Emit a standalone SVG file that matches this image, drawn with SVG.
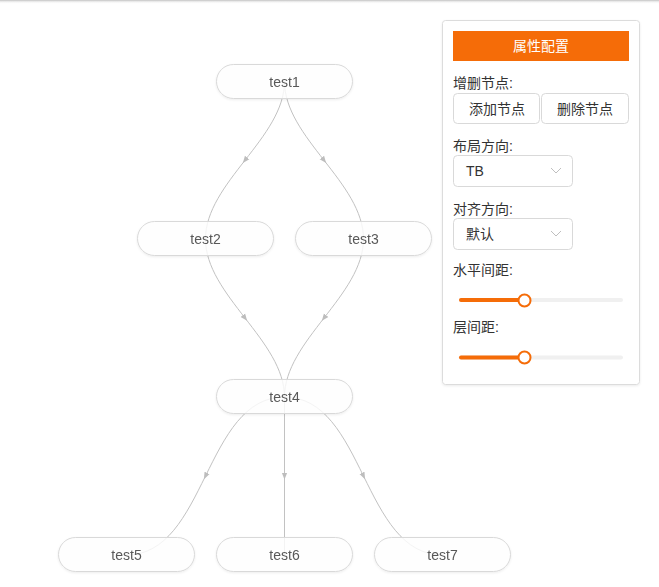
<svg xmlns="http://www.w3.org/2000/svg" width="659" height="587" viewBox="0 0 659 587">
<defs>
<style>
.node rect{fill:#ffffff;fill-opacity:0.82;stroke:#d9d9d9;stroke-width:1}
.node text{font-family:"Liberation Sans",Arial,sans-serif;font-size:14px;fill:#595959;text-anchor:middle}
.edge{fill:none;stroke:#c2c2c2;stroke-width:1;marker-mid:url(#arr)}
.lbl{font-family:"Liberation Sans","Noto Sans CJK SC",sans-serif;font-size:14px;fill:#333333}
.btn{fill:#ffffff;stroke:#d9d9d9;stroke-width:1}
.btnt{font-family:"Liberation Sans","Noto Sans CJK SC",sans-serif;font-size:14px;fill:#333333;text-anchor:middle}
.track{fill:#f0f0f0}
.fill{fill:#f56c08}
.handle{fill:#ffffff;stroke:#f56c08;stroke-width:2}
</style>
<marker id="arr" viewBox="0 0 10 10" refX="5" refY="5" markerWidth="7" markerHeight="7" orient="auto" markerUnits="userSpaceOnUse">
<path d="M0,1 L10,5 L0,9 Z" fill="#bdbdbd"/>
</marker>
<filter id="sh" x="-10%" y="-10%" width="120%" height="130%">
<feDropShadow dx="0" dy="1" stdDeviation="1" flood-color="#000" flood-opacity="0.08"/>
</filter>
<linearGradient id="topsh" x1="0" y1="0" x2="0" y2="1">
<stop offset="0" stop-color="#c8c8c8"/>
<stop offset="1" stop-color="#ffffff" stop-opacity="0"/>
</linearGradient>
</defs>
<rect width="659" height="587" fill="#ffffff"/>
<rect x="0" y="0" width="659" height="4" fill="url(#topsh)"/>
<rect x="0" y="0" width="659" height="1" fill="#d0d0d0"/>

<g id="connectors">
<path class="edge" d="M284.5,81.5 C284.5,109.5 264.75,134.875 245,160.25 C225.25,185.625 205.5,211 205.5,239"/>
<path class="edge" d="M284.5,81.5 C284.5,109.5 304.25,134.875 324,160.25 C343.75,185.625 363.5,211 363.5,239"/>
<path class="edge" d="M205.5,239 C205.5,267 225.25,292.5 245,318 C264.75,343.5 284.5,369 284.5,397"/>
<path class="edge" d="M363.5,239 C363.5,267 343.75,292.5 324,318 C304.25,343.5 284.5,369 284.5,397"/>
<path class="edge" d="M284.5,397 L284.5,476 L284.5,555"/>
<path class="edge" d="M284.5,397 C244.5,397 225,436.5 205.5,476 C186,515.5 166.5,555 126.5,555"/>
<path class="edge" d="M284.5,397 C324.5,397 344,436.5 363.5,476 C383,515.5 402.5,555 442.5,555"/>
</g>

<g id="test1" class="node" filter="url(#sh)"><rect x="216.5" y="64.5" width="136" height="34" rx="17"/><text x="284.5" y="86.5">test1</text></g>
<g id="test2" class="node" filter="url(#sh)"><rect x="137.5" y="221.5" width="136" height="34" rx="17"/><text x="205.5" y="244">test2</text></g>
<g id="test3" class="node" filter="url(#sh)"><rect x="295.5" y="221.5" width="136" height="34" rx="17"/><text x="363.5" y="244">test3</text></g>
<g id="test4" class="node" filter="url(#sh)"><rect x="216.5" y="379.5" width="136" height="34" rx="17"/><text x="284.5" y="402">test4</text></g>
<g id="test5" class="node" filter="url(#sh)"><rect x="58.5" y="537.5" width="136" height="34" rx="17"/><text x="126.5" y="560">test5</text></g>
<g id="test6" class="node" filter="url(#sh)"><rect x="216.5" y="537.5" width="136" height="34" rx="17"/><text x="284.5" y="560">test6</text></g>
<g id="test7" class="node" filter="url(#sh)"><rect x="374.5" y="537.5" width="136" height="34" rx="17"/><text x="442.5" y="560">test7</text></g>

<g id="panel">
<rect x="442.5" y="20.5" width="197" height="364" rx="3" fill="#ffffff" stroke="#dcdcdc" filter="url(#sh)"/>
<rect x="453" y="31" width="176" height="30" fill="#f56c08"/>
<text x="541" y="51" class="btnt" style="fill:#ffffff">属性配置</text>

<text x="453" y="88" class="lbl">增删节点:</text>
<rect class="btn" x="453.5" y="93.5" width="86" height="30" rx="4"/>
<text x="497" y="113.5" class="btnt">添加节点</text>
<rect class="btn" x="541.5" y="93.5" width="87" height="30" rx="4"/>
<text x="585" y="113.5" class="btnt">删除节点</text>

<text x="453" y="151" class="lbl">布局方向:</text>
<rect class="btn" x="453.5" y="155.5" width="119" height="31" rx="4"/>
<text x="466" y="176" class="lbl">TB</text>
<path d="M551,168 L556,173 L561,168" fill="none" stroke="#bfbfbf" stroke-width="1"/>

<text x="453" y="214" class="lbl">对齐方向:</text>
<rect class="btn" x="453.5" y="218.5" width="119" height="31" rx="4"/>
<text x="466" y="239" class="lbl">默认</text>
<path d="M551,231 L556,236 L561,231" fill="none" stroke="#bfbfbf" stroke-width="1"/>

<text x="453" y="275" class="lbl">水平间距:</text>
<rect class="track" x="459" y="298" width="164" height="4" rx="2"/>
<rect class="fill" x="459" y="298" width="66" height="4" rx="2"/>
<circle class="handle" cx="524.5" cy="300.5" r="6"/>

<text x="453" y="332" class="lbl">层间距:</text>
<rect class="track" x="459" y="355.5" width="164" height="4" rx="2"/>
<rect class="fill" x="459" y="355.5" width="66" height="4" rx="2"/>
<circle class="handle" cx="524.5" cy="357.5" r="6"/>
</g>
</svg>
